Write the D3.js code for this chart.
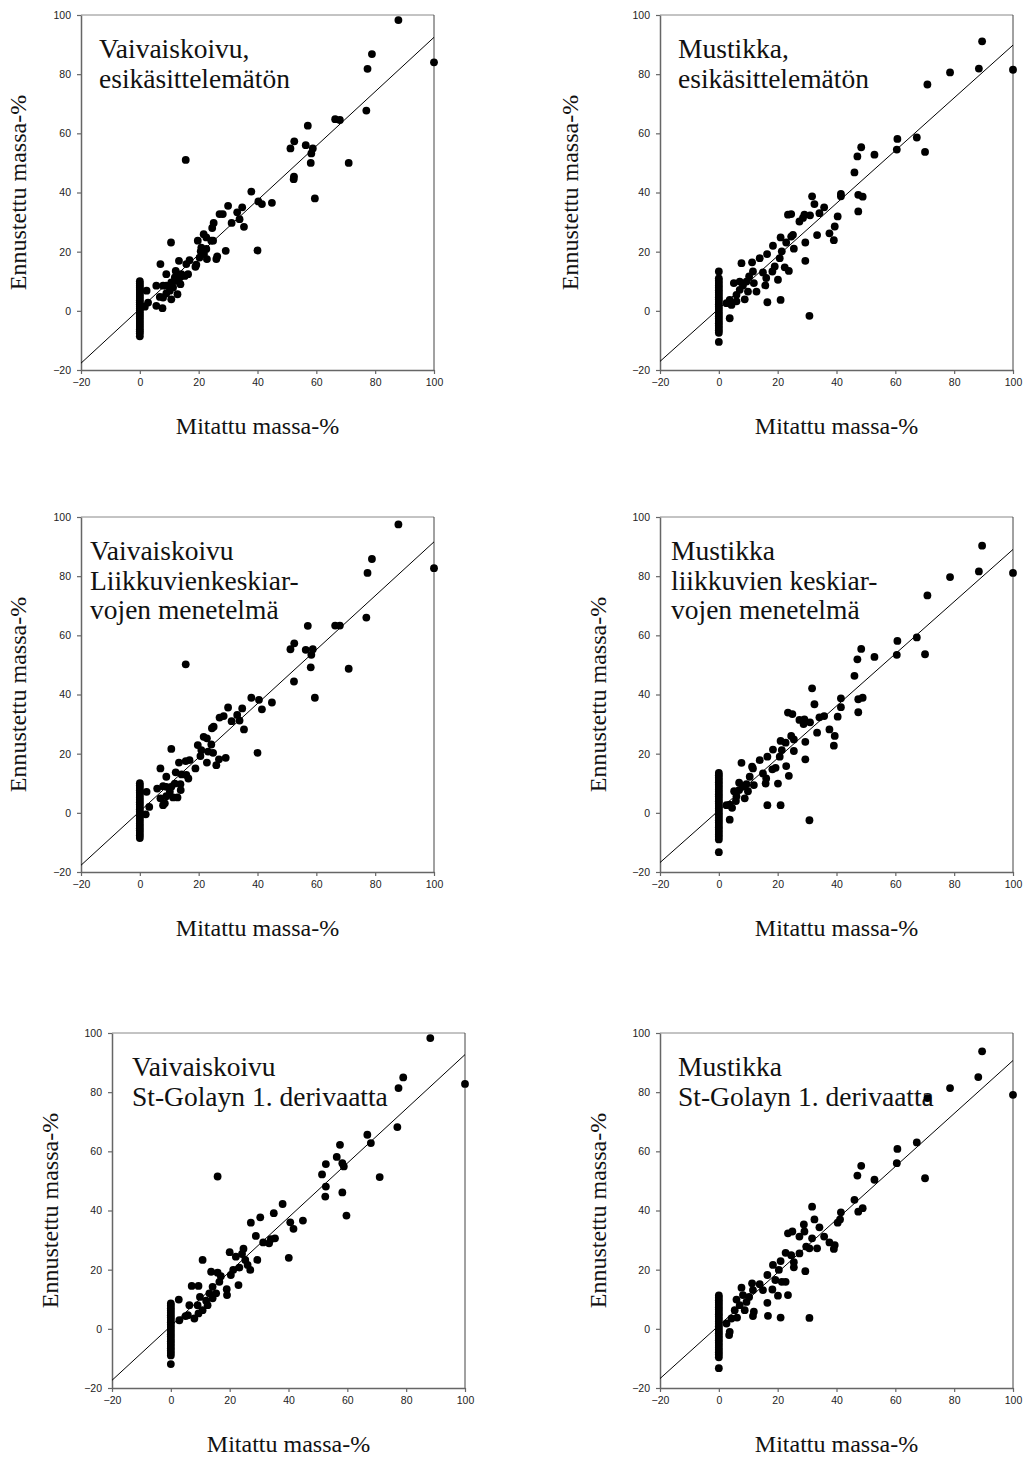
<!DOCTYPE html>
<html>
<head>
<meta charset="utf-8">
<script src="https://cdn.jsdelivr.net/npm/d3@7"></script>
<style>
  body { margin: 0; background: #fff; }
  svg { display: block; }
</style>
</head>
<body>
<div id="plot"></div>
<script>
// measured vs predicted mass-%, points away from the zero column
const vaivaRaw = [[87.9,98.3],[100,84],[78.9,86.8],[77.4,81.8],[77,67.7],[66.4,64.8],[68,64.5],[71,50],[57.1,62.6],[56.4,56],[58.8,54.9],[58.3,53.2],[58.1,50],[59.5,38],[51.2,54.9],[52.5,57.3],[52.4,45.4],[52.3,44.5],[15.6,51],[37.9,40.3],[40.3,37],[41.5,36.1],[44.9,36.5],[40,20.4],[30,35.5],[34.8,35],[33.1,33.3],[33.9,31],[35.4,28.4],[31.2,29.7],[27.1,32.7],[28.2,32.7],[25.1,29.7],[24.6,28],[29.2,20.3],[26.3,18.4],[26,17.5],[24.9,23.7],[21.7,25.9],[22.6,24.8],[24.3,23.7],[19.7,23.7],[20.9,21.4],[22.6,20.9],[20.7,20.1],[21.8,19.2],[22.8,17.5],[20.3,18],[10.6,23.1],[7,15.8],[9,12.4],[13.3,16.9],[16.9,17.1],[15.8,15.8],[18.9,14.9],[19.2,15.6],[12.2,13.5],[14.1,12.4],[15.3,11.8],[16.4,12.4],[11.9,11.3],[13.6,11.3],[12.4,10.1],[10.7,9.6],[13.8,9],[9,8.5],[7.9,8.5],[5.6,8.5],[10.2,6.8],[11.3,7.9],[12.8,5.6],[9,5.9],[6.8,4.7],[7.9,4.5],[10.7,3.9],[2.3,6.8],[2.8,2.8],[1.7,1.4],[5.6,1.7],[7.7,0.9]];
const mustikkaRaw = [[89.5,91.1],[88.4,81.9],[100,81.5],[78.6,80.6],[70.9,76.5],[60.7,58.1],[60.5,54.5],[67.3,58.6],[70.1,53.7],[52.9,52.8],[48.4,55.3],[47.1,52.2],[46.1,46.8],[47.4,39.2],[48.9,38.6],[47.4,33.6],[41.5,39.5],[41.5,38.7],[40.4,31.9],[39.4,28.5],[39.1,23.9],[37.6,26.2],[35.8,35],[34.2,33],[32.5,36.1],[31.7,38.7],[30.8,-1.7],[33.4,25.6],[31,32.3],[29.1,32.5],[27.4,30.2],[28.6,31.4],[24.6,32.7],[23.5,32.5],[25.2,25.7],[24.6,25.1],[25.5,21],[22.9,23.1],[21.4,20.1],[20.7,17.8],[21,24.8],[18.4,22],[16.4,19.2],[13.9,17.8],[15,13],[16.1,11.1],[18.2,13.3],[19,15],[20.1,10.5],[22.4,14.7],[23.8,13.5],[29.4,23.1],[29.4,16.9],[16.5,2.9],[21,3.7],[15.8,8.6],[11.3,16.4],[7.7,16.1],[11.6,13.3],[10.3,11.6],[9.4,9.9],[11.9,9.4],[8.2,8.6],[7.1,9.9],[5.1,9.4],[9.9,6.5],[8.8,3.9],[6,5.4],[3.7,3.7],[4.3,2],[2.6,2.6],[3.7,-2.5],[6,3.2],[7.1,7.1],[12.8,6.5]];
const vaivaMa = [[87.9,97.5],[78.9,85.8],[77.4,81.1],[100,82.7],[77,66],[66.4,63.3],[68,63.3],[71,48.7],[57.1,63.2],[52.5,57.3],[51.2,55.3],[56.4,55.1],[58.8,55.3],[58.3,53.4],[58.1,49.2],[59.5,38.9],[52.4,44.4],[15.6,50.2],[37.9,38.9],[40.5,38.2],[41.5,35],[44.9,37.3],[40,20.3],[30,35.6],[34.8,35.3],[33.1,33.1],[33.9,31.2],[31.2,31],[35.4,28.2],[27.1,32.2],[28.5,32.7],[25.1,29.1],[24.5,28.6],[29.2,18.6],[26.9,18.1],[26,16.1],[24.9,20.3],[21.7,25.7],[22.8,25.2],[24.3,23.1],[19.7,22.9],[20.9,21.2],[23.2,20.7],[20.6,19.2],[22.8,17],[10.7,21.6],[7,15],[9,12.2],[13.3,17],[15.6,17.5],[16.9,17.8],[18.9,15],[12.2,13.7],[14.2,13],[15.8,12.8],[16.5,11.6],[11.9,9.9],[13.8,9.7],[10.7,8.8],[9,8.8],[7.9,9],[5.9,8.2],[10.2,7.1],[13.9,7.7],[12.8,5.2],[9,5.6],[7,4.9],[7.9,2.6],[8.5,3.2],[2.3,7.1],[3.2,2],[2,-0.5],[11.3,5.2]];
const mustikkaMa = [[89.5,90.3],[88.4,81.6],[100,81.1],[78.6,79.7],[70.9,73.5],[60.7,58.1],[60.5,53.4],[67.3,59.3],[70.1,53.6],[52.9,52.7],[48.4,55.4],[47.1,51.9],[46.1,46.3],[47.4,38.4],[48.9,38.9],[47.4,34],[41.5,38.7],[41.5,35.7],[40.4,32.5],[39.4,26],[39.1,22.7],[37.6,28.2],[35.8,32.7],[34.2,32.3],[32.5,36.7],[31.7,42.1],[30.8,-2.5],[33.4,27.1],[31,30.6],[29.1,31.6],[27.4,31.4],[28.8,30],[23.5,33.9],[25,33.4],[24.6,26],[25.5,24.8],[25.5,20.9],[22.7,23.7],[21,24.3],[21.4,21.2],[20.7,19],[18.4,21.4],[16.5,19],[13.9,17.8],[15,13.3],[15.9,9.9],[18.2,14.7],[19.3,15.2],[20.1,9.9],[22.9,15.8],[23.8,12.5],[29.4,24],[29.4,18.1],[16.5,2.6],[21,2.6],[16.1,11.6],[11.3,15.6],[7.7,16.9],[11.6,15],[10.5,12.2],[9.4,9.7],[11.9,9.4],[8,8.8],[6.9,10.2],[5.2,7.3],[9.9,7.3],[8.8,4.9],[6,5.6],[3.7,2.8],[4.5,1.7],[2.6,2.6],[3.7,-2.3],[5.8,4],[6.9,7.7]];
const vaivaSg = [[88.2,98.3],[79,85],[77.4,81.4],[100,82.8],[77,68.2],[66.8,65.6],[68,62.8],[71,51.3],[57.5,62.2],[56.4,58.1],[52.7,55.7],[51.4,52.2],[58.3,56],[58.8,54.9],[58.3,46.1],[59.7,38.3],[52.7,48.1],[52.5,44.7],[15.9,51.5],[38,42.2],[40.6,36],[41.7,33.8],[44.9,36.6],[40.1,24],[30.4,37.7],[27.2,35.9],[35,39.1],[28.9,31.4],[31.4,29.2],[35.4,30.6],[34,30.3],[33.4,28.9],[20,25.9],[22.1,24.4],[24.7,27.1],[24.2,25.3],[25.3,23.3],[29.4,23.3],[26.1,21.6],[27,19.9],[23.3,20.7],[21.2,19.9],[20.4,18.2],[23,14.8],[10.8,23.3],[13.7,19.3],[15.9,19],[17,17.8],[16.5,15.9],[7.1,14.5],[9.4,14.5],[14.2,14.2],[19,13.4],[19.1,11.4],[13.1,12],[15.4,12],[9.9,10.8],[12,9.5],[14.2,10.3],[9.1,8],[6.3,8],[12.5,8],[10.8,6.3],[8,3.5],[5.8,4.6],[9.4,5.2],[2.7,9.9],[2.9,2.9],[5,4.3]];
const mustikkaSg = [[89.5,93.8],[88.2,85.1],[100,79.1],[78.6,81.4],[70.9,78],[67.3,63],[60.7,60.8],[60.5,56],[70.1,50.9],[52.9,50.4],[48.4,55.1],[47.1,51.8],[46.1,43.6],[47.4,39.6],[48.9,40.8],[41.5,39.4],[41.2,37],[40.4,35.9],[39.4,28.3],[39.1,27],[37.6,29.2],[35.8,31.2],[34.2,34.3],[32.5,37],[31.7,41.3],[30.8,3.7],[33.4,27.2],[31.7,30.6],[29.1,32.9],[28.9,35.3],[27.4,31.2],[29.7,27.8],[30.8,27.2],[23.5,32.3],[25,32.9],[22.7,25.7],[24.6,24.9],[25.5,22.5],[25.5,20.8],[27.4,25.5],[21,22.9],[18.4,21.6],[20.4,19.9],[19.2,16.5],[21.4,15.9],[22.7,15.9],[16.5,18.2],[13.9,15.1],[15,13.1],[18.2,13.3],[20.1,11.2],[23.5,11.4],[29.4,19.5],[16.5,8.8],[16.7,4.4],[21,3.8],[11.3,15.4],[7.7,13.9],[11.6,13.1],[10.3,10.8],[8.2,11.4],[9.4,9.1],[6,9.9],[11.9,5.8],[11.6,4.3],[8.8,6.3],[5.4,6.3],[6.2,3.8],[4.3,3.5],[2.6,1.8],[3.7,-1],[3.5,-2.1],[7.1,8]];

// predicted values for samples measured at 0 %
const vaivaRawZero = [10, 9.2, 8.5, 7.8, 7.1, 6.4, 5.7, 5.0, 4.3, 3.6, 2.9, 2.2, 1.5, 0.8, 0.1, -0.6, -1.3, -2.0, -2.7, -3.4, -4.1, -4.8, -5.5, -6.2, -6.9, -7.6, -8.6];
const mustikkaRawZero = [13.3, 11, 10.2, 9.4, 8.6, 7.8, 7.0, 6.2, 5.4, 4.6, 3.8, 3.0, 2.2, 1.4, 0.6, -0.2, -1.0, -1.8, -2.6, -3.4, -4.2, -5.0, -5.8, -6.6, -7.4, -10.5];
const vaivaMaZero = [10, 9.2, 8.4, 7.6, 6.8, 6.0, 5.2, 4.4, 3.6, 2.8, 2.0, 1.2, 0.4, -0.4, -1.2, -2.0, -2.8, -3.6, -4.4, -5.2, -6.0, -6.8, -7.6, -8.5];
const mustikkaMaZero = [13.5, 12.7, 11.9, 11.1, 10.3, 9.5, 8.7, 7.9, 7.1, 6.3, 5.5, 4.7, 3.9, 3.1, 2.3, 1.5, 0.7, -0.1, -0.9, -1.7, -2.5, -3.3, -4.1, -4.9, -5.7, -6.5, -7.3, -8.1, -9, -13.3];
const vaivaSgZero = [8.6, 7.8, 7.0, 6.2, 5.4, 4.6, 3.8, 3.0, 2.2, 1.4, 0.6, -0.2, -1.0, -1.8, -2.6, -3.4, -4.2, -5.0, -5.8, -6.6, -7.4, -8.2, -9.0, -11.9];
const mustikkaSgZero = [11.3, 10.5, 9.7, 8.9, 8.1, 7.3, 6.5, 5.7, 4.9, 4.1, 3.3, 2.5, 1.7, 0.9, 0.1, -0.7, -1.5, -2.3, -3.1, -3.9, -4.7, -5.5, -6.3, -7.1, -7.9, -8.7, -9.6, -13.3];

const panelTitles = [
    ['Vaivaiskoivu,', 'esikäsittelemätön'],
    ['Mustikka,', 'esikäsittelemätön'],
    ['Vaivaiskoivu', 'Liikkuvienkeskiar-', 'vojen menetelmä'],
    ['Mustikka', 'liikkuvien keskiar-', 'vojen menetelmä'],
    ['Vaivaiskoivu', 'St-Golayn 1. derivaatta'],
    ['Mustikka', 'St-Golayn 1. derivaatta']
];
const fitIntercepts = [0.66, 0.72, 0.5, 0.83, 0.95, 1.1];
const fitSlopes = [0.918, 0.891, 0.911, 0.882, 0.9175, 0.896];
const axisTicks = [-20, 0, 20, 40, 60, 80, 100];
const xTitle = 'Mitattu massa-%';
const yTitle = 'Ennustettu massa-%';

const scatterSets = [vaivaRaw, mustikkaRaw, vaivaMa, mustikkaMa, vaivaSg, mustikkaSg];
const zeroSets = [vaivaRawZero, mustikkaRawZero, vaivaMaZero, mustikkaMaZero, vaivaSgZero, mustikkaSgZero];

// panel placement on the page
const layout = [
    {left: 81, top: 15, titleX: 18, yLab: 63},
    {left: 660, top: 15, titleX: 18, yLab: 90},
    {left: 81, top: 517, titleX: 9, yLab: 63},
    {left: 660, top: 517, titleX: 11, yLab: 62},
    {left: 112, top: 1033, titleX: 20, yLab: 62},
    {left: 660, top: 1033, titleX: 18, yLab: 62}
];
const pw = 353, ph = 355;
const serif = '"Liberation Serif", "Times New Roman", serif';
const sans = '"Liberation Sans", Arial, sans-serif';

const svg = d3.select('#plot').append('svg')
    .attr('width', 1025)
    .attr('height', 1459);

layout.forEach((pos, i) => {
    const g = svg.append('g').attr('transform', `translate(${pos.left},${pos.top})`);
    const x = d3.scaleLinear().domain([-20, 100]).range([0, pw]);
    const y = d3.scaleLinear().domain([-20, 100]).range([ph, 0]);

    // frame top/right
    g.append('line').attr('x1', 0).attr('x2', pw).attr('y1', 0).attr('y2', 0)
        .attr('stroke', '#888').attr('stroke-width', 1);
    g.append('line').attr('x1', pw).attr('x2', pw).attr('y1', 0).attr('y2', ph)
        .attr('stroke', '#444').attr('stroke-width', 1);

    const xAxis = g.append('g').attr('transform', `translate(0,${ph})`)
        .call(d3.axisBottom(x).tickValues(axisTicks).tickSize(4).tickPadding(5).tickSizeOuter(0));
    const yAxis = g.append('g')
        .call(d3.axisLeft(y).tickValues(axisTicks).tickSize(4).tickPadding(6).tickSizeOuter(0));
    [xAxis, yAxis].forEach(a => {
        a.select('.domain').attr('stroke', '#666').attr('stroke-width', 1.5);
        a.selectAll('.tick line').attr('stroke', '#666').attr('stroke-width', 1.2);
        a.selectAll('.tick text').attr('fill', '#222')
            .style('font-family', sans).style('font-size', '10.5px');
    });

    // title block
    const t = g.append('text')
        .attr('x', pos.titleX).attr('y', 43)
        .style('font-family', serif).style('font-size', '27.5px').attr('fill', '#111');
    panelTitles[i].forEach((line, k) => {
        t.append('tspan').attr('x', pos.titleX).attr('y', 43 + k * 29.5).text(line);
    });

    // regression line
    g.append('line')
        .attr('x1', x(-20)).attr('y1', y(fitIntercepts[i] + fitSlopes[i] * -20))
        .attr('x2', x(100)).attr('y2', y(fitIntercepts[i] + fitSlopes[i] * 100))
        .attr('stroke', '#000').attr('stroke-width', 1);

    const pts = scatterSets[i].map(d => ({mx: d[0], py: d[1]}))
        .concat(zeroSets[i].map(v => ({mx: 0, py: v})));
    g.selectAll('circle.pt').data(pts).enter().append('circle')
        .attr('class', 'pt')
        .attr('cx', d => x(d.mx))
        .attr('cy', d => y(d.py))
        .attr('r', 3.9)
        .attr('fill', '#000');

    g.append('text')
        .attr('x', pw / 2).attr('y', ph + 64)
        .attr('text-anchor', 'middle')
        .style('font-family', serif).style('font-size', '24px').attr('fill', '#111')
        .text(xTitle);

    g.append('text')
        .attr('transform', `translate(${-pos.yLab},${ph / 2}) rotate(-90)`)
        .attr('text-anchor', 'middle')
        .attr('dy', '0.35em')
        .style('font-family', serif).style('font-size', '24px').attr('fill', '#111')
        .text(yTitle);
});
</script>
</body>
</html>
